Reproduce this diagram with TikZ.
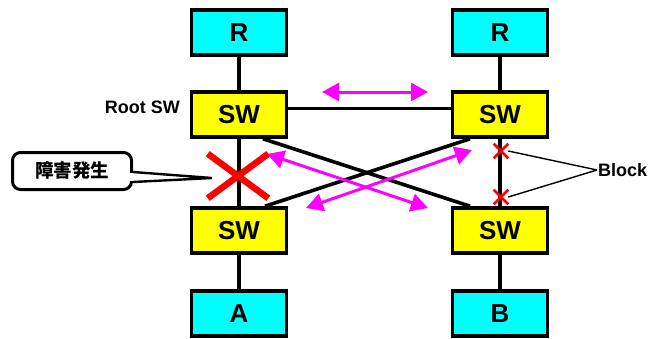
\documentclass[tikz,border=0pt]{standalone}
\usepackage{fontspec}
\setmainfont{Liberation Sans}
\newfontfamily\cjk{Noto Sans CJK JP}
\usetikzlibrary{arrows.meta,shapes.misc}
\definecolor{hostcol}{RGB}{0,255,255}
\definecolor{swcol}{RGB}{255,255,0}
\definecolor{flowcol}{RGB}{255,0,255}
\definecolor{failcol}{RGB}{255,0,0}

\begin{document}
\begin{tikzpicture}[
    x=1pt, y=-1pt,
    box/.style={draw, line width=3.6pt, minimum width=95pt, minimum height=45pt,
                font=\bfseries\fontsize{26}{28}\selectfont, inner sep=0pt},
    hs/.style={box, fill=hostcol},
    sw/.style={box, fill=swcol},
    ln/.style={line width=3.6pt},
    fl/.style={{Triangle[length=17pt,width=18pt]}-{Triangle[length=17pt,width=18pt]},
               line width=3pt, flowcol},
    lbl/.style={font=\bfseries\fontsize{18}{20}\selectfont, inner sep=1pt}
  ]
  \useasboundingbox (0,0) rectangle (651,338);

  % hosts and switches
  \node[hs] (rl) at (239,32.5) {R};
  \node[hs] (rr) at (500,32.5) {R};
  \node[sw] (swtl) at (239,114.5) {SW};
  \node[sw] (swtr) at (500,114.5) {SW};
  \node[sw] (swbl) at (239,230.5) {SW};
  \node[sw] (swbr) at (500,230.5) {SW};
  \node[hs] (ha) at (239,313.5) {A};
  \node[hs] (hb) at (500,313.5) {B};

  \node[lbl, anchor=east] (root) at (181,107) {Root SW};

  % links
  \draw[ln] (rl) -- (swtl);
  \draw[ln] (rr) -- (swtr);
  \draw[ln] (swtl) -- (swbl);
  \draw[ln] (swtr) -- (swbr);
  \draw[ln] (swbl) -- (ha);
  \draw[ln] (swbr) -- (hb);
  \draw[ln] ([yshift=6pt]swtl.east) -- ([yshift=6pt]swtr.west);
  \draw[ln] ([xshift=24pt]swtl.south) -- ([xshift=-30pt]swbr.north);
  \draw[ln] ([xshift=26pt]swbl.north) -- ([xshift=-30pt]swtr.south);

  % traffic
  \coordinate (t1) at (322,92);
  \coordinate (t2) at (428,92);
  \coordinate (c1) at (267,154);
  \coordinate (c2) at (428,208);
  \coordinate (c3) at (306,208);
  \coordinate (c4) at (472,150);
  \draw[fl] (t1) -- (t2);
  \draw[fl] (c1) -- (c2);
  \draw[fl] (c3) -- (c4);

  % failure and blocked ports
  \node[cross out, draw=failcol, line width=6.5pt, minimum width=54pt, minimum height=38pt] (fail) at (238,176) {};
  \node[cross out, draw=failcol, line width=2.6pt, minimum size=12pt] (bk1) at (501,151) {};
  \node[cross out, draw=failcol, line width=2.6pt, minimum size=12pt] (bk2) at (501,197) {};
  \node[lbl, anchor=west] (blk) at (597,170) {Block};
  \draw[line width=1.4pt] (blk.west) -- (bk1.east);
  \draw[line width=1.4pt] (blk.west) -- (bk2.east);

  % callout
  \node[draw, line width=3pt, rounded corners=8pt, fill=white, minimum width=119pt,
        minimum height=37pt, font=\cjk\bfseries\fontsize{18.5}{20}\selectfont] (note) at (72,171) {障害発生};
  \coordinate (tip) at (212,178);
  \fill[white] ([xshift=-3pt,yshift=-1pt]note.east |- 0,172) -- (tip) -- ([xshift=-3pt,yshift=1pt]note.east |- 0,182) -- cycle;
  \draw[line width=2.4pt] (note.east |- 0,172) -- (tip) -- (note.east |- 0,182);
\end{tikzpicture}
\end{document}
